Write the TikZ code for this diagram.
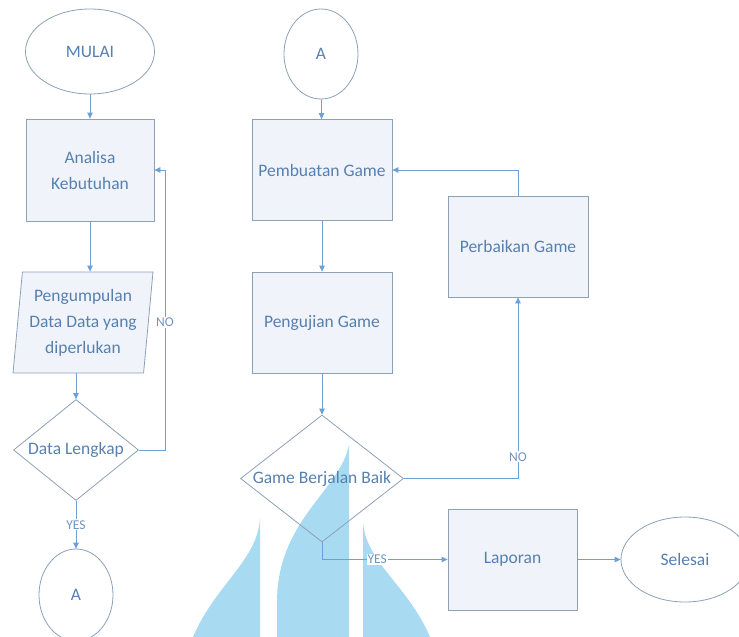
\documentclass[tikz,border=0pt]{standalone}
\usepackage{fontspec}
\setmainfont{Carlito}
\usetikzlibrary{shapes.geometric,arrows.meta}
\definecolor{txtblue}{RGB}{86,128,176}
\definecolor{lbltext}{RGB}{112,148,190}
\definecolor{edgegray}{RGB}{140,160,182}
\definecolor{linkblue}{RGB}{108,160,214}
\definecolor{boxtint}{RGB}{240,244,250}
\definecolor{logoblue}{RGB}{168,219,242}

\begin{document}
\begin{tikzpicture}[x=1pt,y=-1pt,
    every node/.style={text=txtblue, font=\fontsize{17.5}{26}\selectfont},
    proc/.style={draw=edgegray, line width=0.8pt, fill=boxtint,
                 minimum width=140pt, minimum height=101pt, align=center, inner sep=0pt},
    term/.style={draw=edgegray, line width=0.8pt, ellipse, inner sep=0pt},
    decide/.style={draw=edgegray, line width=0.8pt, diamond, inner sep=0pt},
    conn/.style={draw=linkblue, line width=0.8pt, -{Triangle[length=6pt,width=5.5pt]}},
    lbl/.style={fill=white, inner sep=1pt, text=lbltext, font=\fontsize{13.5}{15}\selectfont}]
    \useasboundingbox (0,0) rectangle (739,637);

    %% logo in the background
    \fill[logoblue] (260,518) .. controls (258,560) and (215,585) .. (193,637) -- (260,637) -- cycle;
    \fill[logoblue] (349,445) .. controls (340,490) and (278,520) .. (277,600) -- (277,637) -- (349,637) -- cycle;
    \fill[logoblue] (363,521) .. controls (365,562) and (408,585) .. (430,637) -- (363,637) -- cycle;

    %% left column
    \node[term, minimum width=129pt, minimum height=85pt] (mulai) at (90,51.5) {MULAI};
    \node[proc, minimum width=128pt, minimum height=102pt] (analisa) at (90,170) {Analisa\\Kebutuhan};
    \node[trapezium, trapezium left angle=82, trapezium right angle=98, trapezium stretches body,
          draw=edgegray, line width=0.8pt, fill=boxtint,
          minimum width=140pt, minimum height=101pt, align=center, inner sep=0pt]
          (data) at (83,322.5) {Pengumpulan\\Data Data yang\\diperlukan};
    \node[decide, minimum width=125pt, minimum height=101pt, aspect=1.24] (lengkap) at (76,450) {Data Lengkap};
    \node[term, minimum width=74pt, minimum height=92pt] (a1) at (76,595) {A};

    %% right column
    \node[term, minimum width=74pt, minimum height=90pt] (a2) at (321,54) {A};
    \node[proc] (buat) at (322,170) {Pembuatan Game};
    \node[proc] (uji) at (322,322.5) {Pengujian Game};
    \node[decide, minimum width=163pt, minimum height=127pt, aspect=1.28] (jalan) at (322,478.5) {Game Berjalan Baik};
    \node[proc] (baiki) at (518,246.5) {Perbaikan Game};
    \node[proc, minimum width=129pt] (lapor) at (512.5,559.5) {Laporan};
    \node[term, minimum width=128pt, minimum height=85pt] (selesai) at (685,559.5) {Selesai};

    %% connectors, left
    \draw[conn] (mulai) -- (analisa);
    \draw[conn] (analisa.south) -- (analisa.south |- data.north);
    \draw[conn] (data.south -| lengkap.north) -- (lengkap.north);
    \draw[conn] (lengkap) -- node[lbl] {YES} (a1);
    \draw[conn] (lengkap.east) -- ++(26,0) coordinate (nokiri) |- (analisa.east);
    \node[lbl] (nokiritext) at (nokiri |- data) {NO};

    %% connectors, right
    \draw[conn] (a2) -- (buat);
    \draw[conn] (buat) -- (uji);
    \draw[conn] (uji) -- (jalan);
    \draw[conn] (jalan.east) -| node[lbl, pos=0.56] {NO} (baiki.south);
    \draw[conn] (baiki.north) |- (buat.east);
    \draw[conn] (jalan.south) |- node[lbl, pos=0.72] {YES} (lapor.west);
    \draw[conn] (lapor) -- (selesai);
\end{tikzpicture}
\end{document}
